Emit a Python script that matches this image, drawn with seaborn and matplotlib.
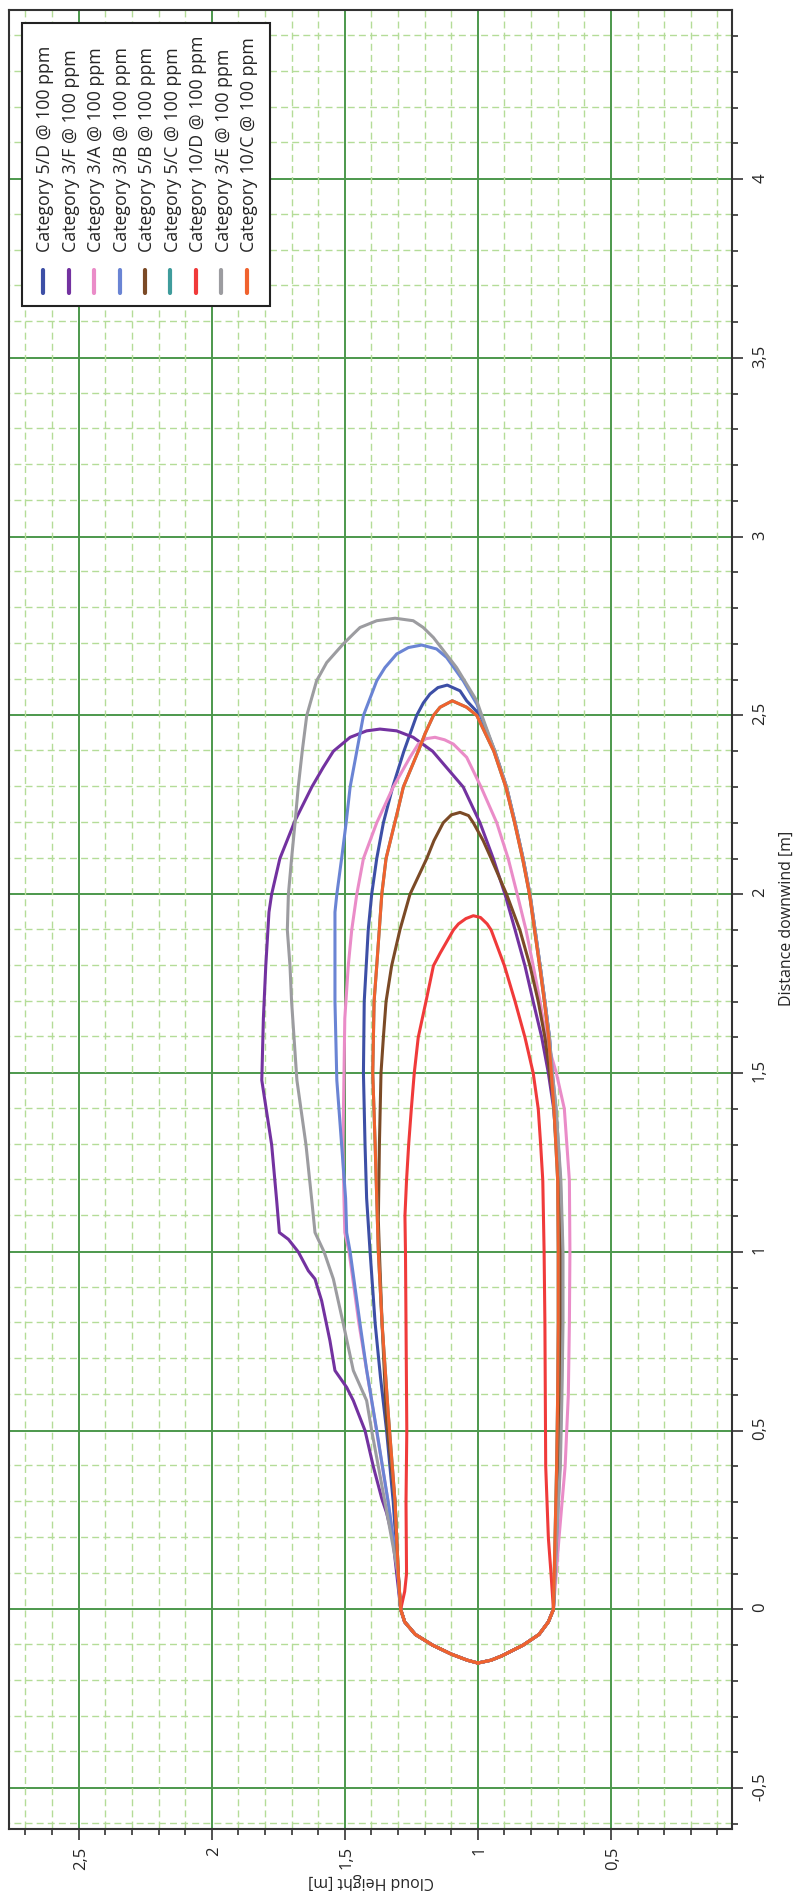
import numpy as np
import pandas as pd
import matplotlib
matplotlib.use("Agg")
import matplotlib.pyplot as plt
from matplotlib.ticker import MultipleLocator, FuncFormatter
import seaborn as sns

# 100 ppm cloud outlines: distance downwind [m] vs cloud height [m]
# shared rounded nose near the source
tip_up_d = [-0.15, -0.142, -0.125, -0.1, -0.07, -0.035, 0.0]
tip_up_h = [1.0, 1.04, 1.10, 1.17, 1.235, 1.275, 1.29]
tip_lo_d = [0.0, -0.035, -0.07, -0.1, -0.13, -0.142, -0.15]
tip_lo_h = [0.716, 0.735, 0.77, 0.83, 0.91, 0.95, 1.0]

# Category 5/D
d_5D_up = [0.1, 0.3, 0.5, 0.65, 0.8, 1.0, 1.15, 1.3, 1.5, 1.7, 1.9, 2.0, 2.1, 2.2, 2.3, 2.4, 2.5, 2.535, 2.56, 2.578, 2.585]
h_5D_up = [1.30, 1.318, 1.343, 1.366, 1.386, 1.405, 1.418, 1.424, 1.43, 1.427, 1.412, 1.399, 1.38, 1.355, 1.32, 1.278, 1.23, 1.205, 1.18, 1.15, 1.115]
d_5D_lo = [2.569, 2.541, 2.5, 2.4, 2.3, 2.2, 2.1, 2.0, 1.9, 1.8, 1.7, 1.6, 1.5, 1.4, 1.2, 1.0, 0.8, 0.6, 0.4, 0.2]
h_5D_lo = [1.067, 1.042, 0.99, 0.936, 0.892, 0.86, 0.83, 0.804, 0.785, 0.766, 0.748, 0.731, 0.722, 0.71, 0.693, 0.685, 0.685, 0.689, 0.694, 0.706]

# Category 3/F
d_3F_up = [0.1, 0.2, 0.27, 0.31, 0.4, 0.5, 0.584, 0.621, 0.668, 0.752, 0.863, 0.924, 0.947, 1.0, 1.035, 1.054, 1.143, 1.3, 1.48,
           1.653, 1.8, 1.95, 2.0, 2.1, 2.206, 2.3, 2.355, 2.4, 2.439, 2.457, 2.462]
h_3F_up = [1.305, 1.32, 1.343, 1.361, 1.393, 1.424, 1.468, 1.493, 1.537, 1.556, 1.587, 1.612, 1.637, 1.675, 1.712, 1.746, 1.756, 1.775, 1.812,
           1.806, 1.797, 1.785, 1.775, 1.744, 1.687, 1.624, 1.581, 1.543, 1.48, 1.418, 1.368]
d_3F_lo = [2.457, 2.439, 2.4, 2.3, 2.2, 2.1, 2.0, 1.9, 1.8, 1.7, 1.6, 1.5, 1.4, 1.2, 1.0, 0.8, 0.6, 0.4, 0.2]
h_3F_lo = [1.305, 1.243, 1.17, 1.055, 0.992, 0.942, 0.898, 0.86, 0.823, 0.792, 0.76, 0.735, 0.715, 0.695, 0.686, 0.686, 0.69, 0.696, 0.706]

# Category 3/A
d_3A_up = [0.1, 0.3, 0.528, 0.8, 1.0, 1.054, 1.143, 1.3, 1.5, 1.653, 1.8, 1.9, 2.0, 2.1, 2.2, 2.3, 2.383, 2.42, 2.435, 2.439]
h_3A_up = [1.30, 1.337, 1.387, 1.447, 1.484, 1.50, 1.503, 1.507, 1.503, 1.50, 1.487, 1.474, 1.455, 1.43, 1.38, 1.318, 1.255, 1.224, 1.195, 1.161]
d_3A_lo = [2.432, 2.42, 2.383, 2.3, 2.2, 2.1, 2.0, 1.9, 1.8, 1.7, 1.6, 1.5, 1.4, 1.2, 1.0, 0.8, 0.6, 0.4, 0.2]
h_3A_lo = [1.125, 1.092, 1.042, 0.988, 0.929, 0.886, 0.852, 0.819, 0.792, 0.766, 0.744, 0.705, 0.675, 0.656, 0.654, 0.656, 0.66, 0.672, 0.695]

# Category 3/B
d_3B_up = [0.1, 0.3, 0.5, 0.67, 0.8, 1.0, 1.054, 1.15, 1.3, 1.48, 1.7, 1.95, 2.0, 2.1, 2.2, 2.3, 2.4, 2.5, 2.597, 2.634, 2.672, 2.69, 2.697]
h_3B_up = [1.30, 1.337, 1.38, 1.418, 1.443, 1.48, 1.493, 1.497, 1.512, 1.53, 1.537, 1.537, 1.53, 1.512, 1.495, 1.48, 1.455, 1.43, 1.38, 1.349, 1.305, 1.261, 1.211]
d_3B_lo = [2.686, 2.662, 2.597, 2.532, 2.5, 2.4, 2.3, 2.2, 2.1, 2.0, 1.9, 1.8, 1.7, 1.6, 1.5, 1.4, 1.2, 1.0, 0.8, 0.6, 0.4, 0.2]
h_3B_lo = [1.155, 1.117, 1.055, 1.004, 0.988, 0.937, 0.893, 0.86, 0.83, 0.805, 0.785, 0.766, 0.748, 0.731, 0.72, 0.706, 0.69, 0.682, 0.682, 0.686, 0.692, 0.704]

# Category 5/B
d_5B_up = [0.1, 0.3, 0.528, 0.8, 1.0, 1.088, 1.3, 1.5, 1.6, 1.7, 1.8, 1.9, 2.0, 2.1, 2.15, 2.2, 2.222, 2.229]
h_5B_up = [1.299, 1.311, 1.343, 1.36, 1.37, 1.374, 1.37, 1.364, 1.355, 1.345, 1.324, 1.293, 1.255, 1.192, 1.165, 1.13, 1.10, 1.067]
d_5B_lo = [2.22, 2.2, 2.15, 2.1, 2.0, 1.9, 1.8, 1.7, 1.6, 1.5, 1.4, 1.2, 1.0, 0.8, 0.6, 0.4, 0.2]
h_5B_lo = [1.035, 1.017, 0.98, 0.95, 0.892, 0.842, 0.804, 0.773, 0.748, 0.73, 0.712, 0.695, 0.69, 0.69, 0.692, 0.698, 0.706]

# Category 5/C (lies under 10/C)
d_5C_up = [0.1, 0.3, 0.55, 0.8, 1.0, 1.15, 1.3, 1.5, 1.7, 1.8, 2.0, 2.1, 2.237, 2.3, 2.4, 2.45, 2.5, 2.523, 2.541]
h_5C_up = [1.299, 1.311, 1.337, 1.36, 1.374, 1.38, 1.386, 1.395, 1.39, 1.38, 1.361, 1.345, 1.30, 1.28, 1.224, 1.198, 1.167, 1.142, 1.096]
d_5C_lo = [2.523, 2.5, 2.4, 2.3, 2.2, 2.1, 2.0, 1.9, 1.8, 1.7, 1.6, 1.5, 1.4, 1.2, 1.0, 0.8, 0.6, 0.4, 0.2]
h_5C_lo = [1.042, 1.004, 0.94, 0.895, 0.862, 0.832, 0.806, 0.787, 0.768, 0.75, 0.734, 0.724, 0.714, 0.70, 0.698, 0.698, 0.70, 0.704, 0.71]

# Category 10/D
d_10D_up = [0.05, 0.1, 0.3, 0.5, 0.8, 1.0, 1.1, 1.2, 1.3, 1.4, 1.5, 1.6, 1.7, 1.8, 1.835, 1.9, 1.917, 1.932, 1.94]
h_10D_up = [1.275, 1.268, 1.27, 1.267, 1.27, 1.272, 1.274, 1.268, 1.26, 1.25, 1.239, 1.224, 1.195, 1.167, 1.142, 1.092, 1.073, 1.045, 1.017]
d_10D_lo = [1.935, 1.917, 1.9, 1.8, 1.7, 1.6, 1.5, 1.4, 1.3, 1.2, 1.0, 0.8, 0.4, 0.2, 0.1]
h_10D_lo = [0.99, 0.965, 0.95, 0.90, 0.86, 0.823, 0.792, 0.773, 0.764, 0.756, 0.751, 0.748, 0.745, 0.735, 0.725]

# Category 3/E
d_3E_up = [0.1, 0.3, 0.4, 0.5, 0.584, 0.668, 0.8, 0.924, 1.0, 1.054, 1.143, 1.3, 1.48, 1.7, 1.8, 1.9, 2.0, 2.1, 2.2, 2.3, 2.4,
           2.5, 2.597, 2.648, 2.70, 2.728, 2.746, 2.765, 2.772]
h_3E_up = [1.30, 1.349, 1.374, 1.399, 1.418, 1.468, 1.506, 1.543, 1.578, 1.612, 1.624, 1.646, 1.68, 1.70, 1.706, 1.716, 1.712, 1.70, 1.687, 1.675, 1.66,
           1.643, 1.606, 1.568, 1.506, 1.468, 1.443, 1.38, 1.311]
d_3E_lo = [2.765, 2.746, 2.718, 2.634, 2.541, 2.5, 2.4, 2.3, 2.2, 2.1, 2.0, 1.9, 1.8, 1.7, 1.6, 1.5, 1.4, 1.2, 1.0, 0.8, 0.6, 0.4, 0.2]
h_3E_lo = [1.243, 1.205, 1.167, 1.08, 1.004, 0.985, 0.936, 0.892, 0.86, 0.83, 0.804, 0.785, 0.766, 0.748, 0.731, 0.72, 0.706, 0.688, 0.68, 0.68, 0.684, 0.69, 0.704]

# Category 10/C
d_10C_up = [0.1, 0.3, 0.55, 0.8, 1.0, 1.15, 1.3, 1.5, 1.7, 1.8, 2.0, 2.1, 2.237, 2.3, 2.4, 2.45, 2.5, 2.523, 2.541]
h_10C_up = [1.299, 1.311, 1.337, 1.36, 1.374, 1.38, 1.386, 1.395, 1.39, 1.38, 1.361, 1.345, 1.30, 1.28, 1.224, 1.198, 1.167, 1.142, 1.096]
d_10C_lo = [2.523, 2.5, 2.4, 2.3, 2.2, 2.1, 2.0, 1.9, 1.8, 1.7, 1.6, 1.5, 1.4, 1.2, 1.0, 0.8, 0.6, 0.4, 0.2]
h_10C_lo = [1.042, 1.004, 0.94, 0.895, 0.862, 0.832, 0.806, 0.787, 0.768, 0.75, 0.734, 0.724, 0.714, 0.70, 0.698, 0.698, 0.70, 0.704, 0.71]

labels = ["Category 5/D @ 100 ppm", "Category 3/F @ 100 ppm", "Category 3/A @ 100 ppm",
          "Category 3/B @ 100 ppm", "Category 5/B @ 100 ppm", "Category 5/C @ 100 ppm",
          "Category 10/D @ 100 ppm", "Category 3/E @ 100 ppm", "Category 10/C @ 100 ppm"]
colors = ["#3d4fa6", "#7332a0", "#ea8cc8", "#6a84d4", "#7b4a26", "#3f9c9c", "#f03a3a", "#9c9ca0", "#f0622e"]

outlines = [(d_5D_up, h_5D_up, d_5D_lo, h_5D_lo), (d_3F_up, h_3F_up, d_3F_lo, h_3F_lo),
            (d_3A_up, h_3A_up, d_3A_lo, h_3A_lo), (d_3B_up, h_3B_up, d_3B_lo, h_3B_lo),
            (d_5B_up, h_5B_up, d_5B_lo, h_5B_lo), (d_5C_up, h_5C_up, d_5C_lo, h_5C_lo),
            (d_10D_up, h_10D_up, d_10D_lo, h_10D_lo), (d_3E_up, h_3E_up, d_3E_lo, h_3E_lo),
            (d_10C_up, h_10C_up, d_10C_lo, h_10C_lo)]

# long-form table, each outline as a closed loop
frames = []
for lab, (du, hu, dl, hl) in zip(labels, outlines):
    d = tip_up_d + du + dl + tip_lo_d
    h = tip_up_h + hu + hl + tip_lo_h
    frames.append(pd.DataFrame({"dist": d, "height": h, "series": lab}))
df = pd.concat(frames, ignore_index=True)

sns.set_style("white")
plt.rcParams["font.family"] = ["Open Sans", "DejaVu Sans"]

# drawn landscape, then turned a quarter turn like the source page
W, H = 1897, 796
fig = plt.figure(figsize=(W / 100, H / 100), dpi=100)
ax = fig.add_axes([67.7 / W, 1 - 731.7 / H, (1887 - 67.7) / W, (731.7 - 9) / H])

sns.lineplot(data=df, x="dist", y="height", hue="series", hue_order=labels,
             palette=dict(zip(labels, colors)), sort=False, estimator=None,
             linewidth=2.2, ax=ax)

ax.set_xlim(-0.615, 4.473)
ax.set_ylim(0.046, 2.762)
ax.xaxis.set_major_locator(MultipleLocator(0.5))
ax.xaxis.set_minor_locator(MultipleLocator(0.1))
ax.yaxis.set_major_locator(MultipleLocator(0.5))
ax.yaxis.set_minor_locator(MultipleLocator(0.1))
comma = FuncFormatter(lambda v, p: ("%g" % round(v, 2)).replace(".", ","))
ax.xaxis.set_major_formatter(comma)
ax.yaxis.set_major_formatter(comma)

ax.grid(which="minor", color="#b4dc98", lw=1.0, ls=(0, (5, 3)))
ax.grid(which="major", color="#4c984c", lw=1.4, ls="-")
ax.set_axisbelow(True)
for s in ax.spines.values():
    s.set_color("#333333")
    s.set_linewidth(1.5)
ax.tick_params(which="major", direction="out", length=7.7, width=1.1, color="#222222",
               labelsize=12, pad=7, bottom=True, left=True)
ax.tick_params(axis="y", which="major", pad=6)
ax.tick_params(which="minor", direction="out", length=4.3, width=1.1, color="#222222",
               bottom=True, left=True)

ax.set_xlabel("Distance downwind [m]", fontsize=11.5, labelpad=7)
ax.set_ylabel("Cloud Height [m]", fontsize=11.5, labelpad=2)

handles, labs = ax.get_legend_handles_labels()
leg = ax.legend(handles, labs, loc="upper right", bbox_to_anchor=(0.9929, 0.982),
                borderaxespad=0, fontsize=12.8, frameon=True, fancybox=False,
                edgecolor="#222222", framealpha=1, handlelength=1.3,
                handletextpad=0.95, labelspacing=0.42, borderpad=0.75)
leg.get_frame().set_linewidth(1.5)
for ln in leg.get_lines():
    ln.set_linewidth(3)

fig.canvas.draw()
img = np.asarray(fig.canvas.buffer_rgba())
img = np.rot90(img, 1)
plt.imsave("out.png", np.ascontiguousarray(img))
